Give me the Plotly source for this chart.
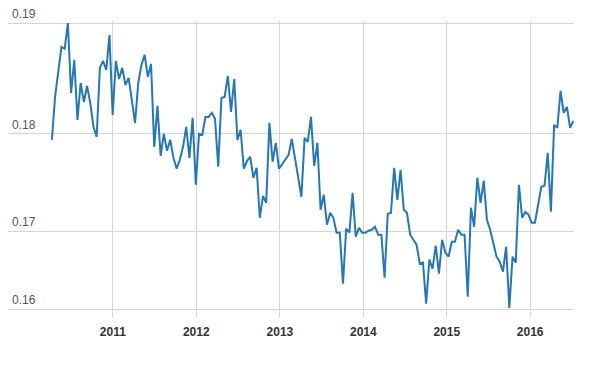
import plotly.graph_objects as go
import pandas as pd

start_date = "2010-04-09"
values = [
    0.17946, 0.18333, 0.18559, 0.18784, 0.18766, 0.19000, 0.18369, 0.18667, 0.18126, 0.18459,
    0.18288, 0.18432, 0.18279, 0.18063, 0.17973, 0.18595, 0.18658, 0.18577, 0.18892, 0.18171,
    0.18658, 0.18495, 0.18595, 0.18441, 0.18505, 0.18306, 0.18099, 0.18459, 0.18622, 0.18712,
    0.18514, 0.18631, 0.17883, 0.18252, 0.17802, 0.18000, 0.17847, 0.17946, 0.17784, 0.17685,
    0.17766, 0.17883, 0.18063, 0.17784, 0.18144, 0.17541, 0.18000, 0.17991, 0.18153, 0.18153,
    0.18189, 0.18135, 0.17703,
    0.18324, 0.18333, 0.18523, 0.18198, 0.18495, 0.17946, 0.18036, 0.17685, 0.17757, 0.17793,
    0.17604, 0.17694, 0.17243, 0.17441, 0.17378, 0.18099, 0.17748, 0.17919, 0.17685, 0.17730,
    0.17766, 0.17811, 0.17955, 0.17766, 0.17586, 0.17432, 0.17964, 0.17928, 0.18153, 0.17712,
    0.17919, 0.17315, 0.17450, 0.17180, 0.17288, 0.17243, 0.17108, 0.17108, 0.16649, 0.17144,
    0.17108, 0.17468, 0.17072, 0.17153, 0.17108, 0.17108, 0.17126, 0.17135, 0.17162, 0.17090,
    0.17090, 0.16703, 0.17279, 0.17288, 0.17694, 0.17405, 0.17676, 0.17315, 0.17288, 0.17090,
    0.17045, 0.17000, 0.16829, 0.16838, 0.16468, 0.16865, 0.16784, 0.16991, 0.16739, 0.17045,
    0.16928, 0.16892, 0.17027, 0.17027, 0.17135, 0.17090, 0.17090, 0.16532, 0.17333, 0.17162,
    0.17604, 0.17378, 0.17577, 0.17225, 0.17135, 0.17000, 0.16892, 0.16847, 0.16757, 0.16982,
    0.16430, 0.16892, 0.16838, 0.17541, 0.17243, 0.17297, 0.17270, 0.17198, 0.17198, 0.17360,
    0.17523, 0.17532, 0.17829, 0.17297, 0.18081, 0.18054, 0.18387, 0.18189, 0.18243, 0.18054,
    0.18117,
]
dates = pd.date_range(start_date, periods=len(values), freq="14D")

year_ticks = ["2011-01-01", "2012-01-01", "2013-01-01", "2014-01-01", "2015-01-01", "2016-01-01"]
year_labels = ["2011", "2012", "2013", "2014", "2015", "2016"]
y_tick_vals = [0.19, 0.18, 0.1712, 0.1642]
y_tick_labels = ["0.19", "0.18", "0.17", "0.16"]

fig = go.Figure(
    go.Scatter(
        x=dates, y=values, mode="lines",
        line=dict(color="#2577b5", width=2),
        hoverinfo="skip",
    )
)
# the page body has an 8px margin, so the figure is sized to fit the window
fig.update_layout(
    width=591, height=357,
    margin=dict(l=0, r=25, t=13, b=54),
    plot_bgcolor="white", paper_bgcolor="white",
    showlegend=False,
    font=dict(family="Liberation Sans, Arial, sans-serif"),
)
fig.update_xaxes(
    automargin=False,
    range=["2009-09-29", "2016-07-11"],
    tickvals=year_ticks, ticktext=year_labels,
    showgrid=True, gridcolor="#d4d4d4", gridwidth=1,
    ticks="outside", ticklen=5, tickcolor="#d4d4d4",
    tickfont=dict(size=12, color="#333333", weight="bold"),
    ticklabelstandoff=5,
    zeroline=False, showline=False,
)
fig.update_yaxes(
    automargin=False,
    range=[0.16402, 0.19018],
    tickvals=y_tick_vals,
    showticklabels=False,
    showgrid=True, gridcolor="#d4d4d4", gridwidth=1,
    ticks="",
    zeroline=False, showline=False,
)
for val, lab in zip(y_tick_vals, y_tick_labels):
    fig.add_annotation(
        xref="paper", yref="y", x=0, y=val,
        text=lab, showarrow=False,
        xanchor="left", yanchor="middle",
        xshift=2, yshift=9,
        font=dict(size=12, color="#555555"),
    )
fig.write_html("out.html", config={"displayModeBar": False})
